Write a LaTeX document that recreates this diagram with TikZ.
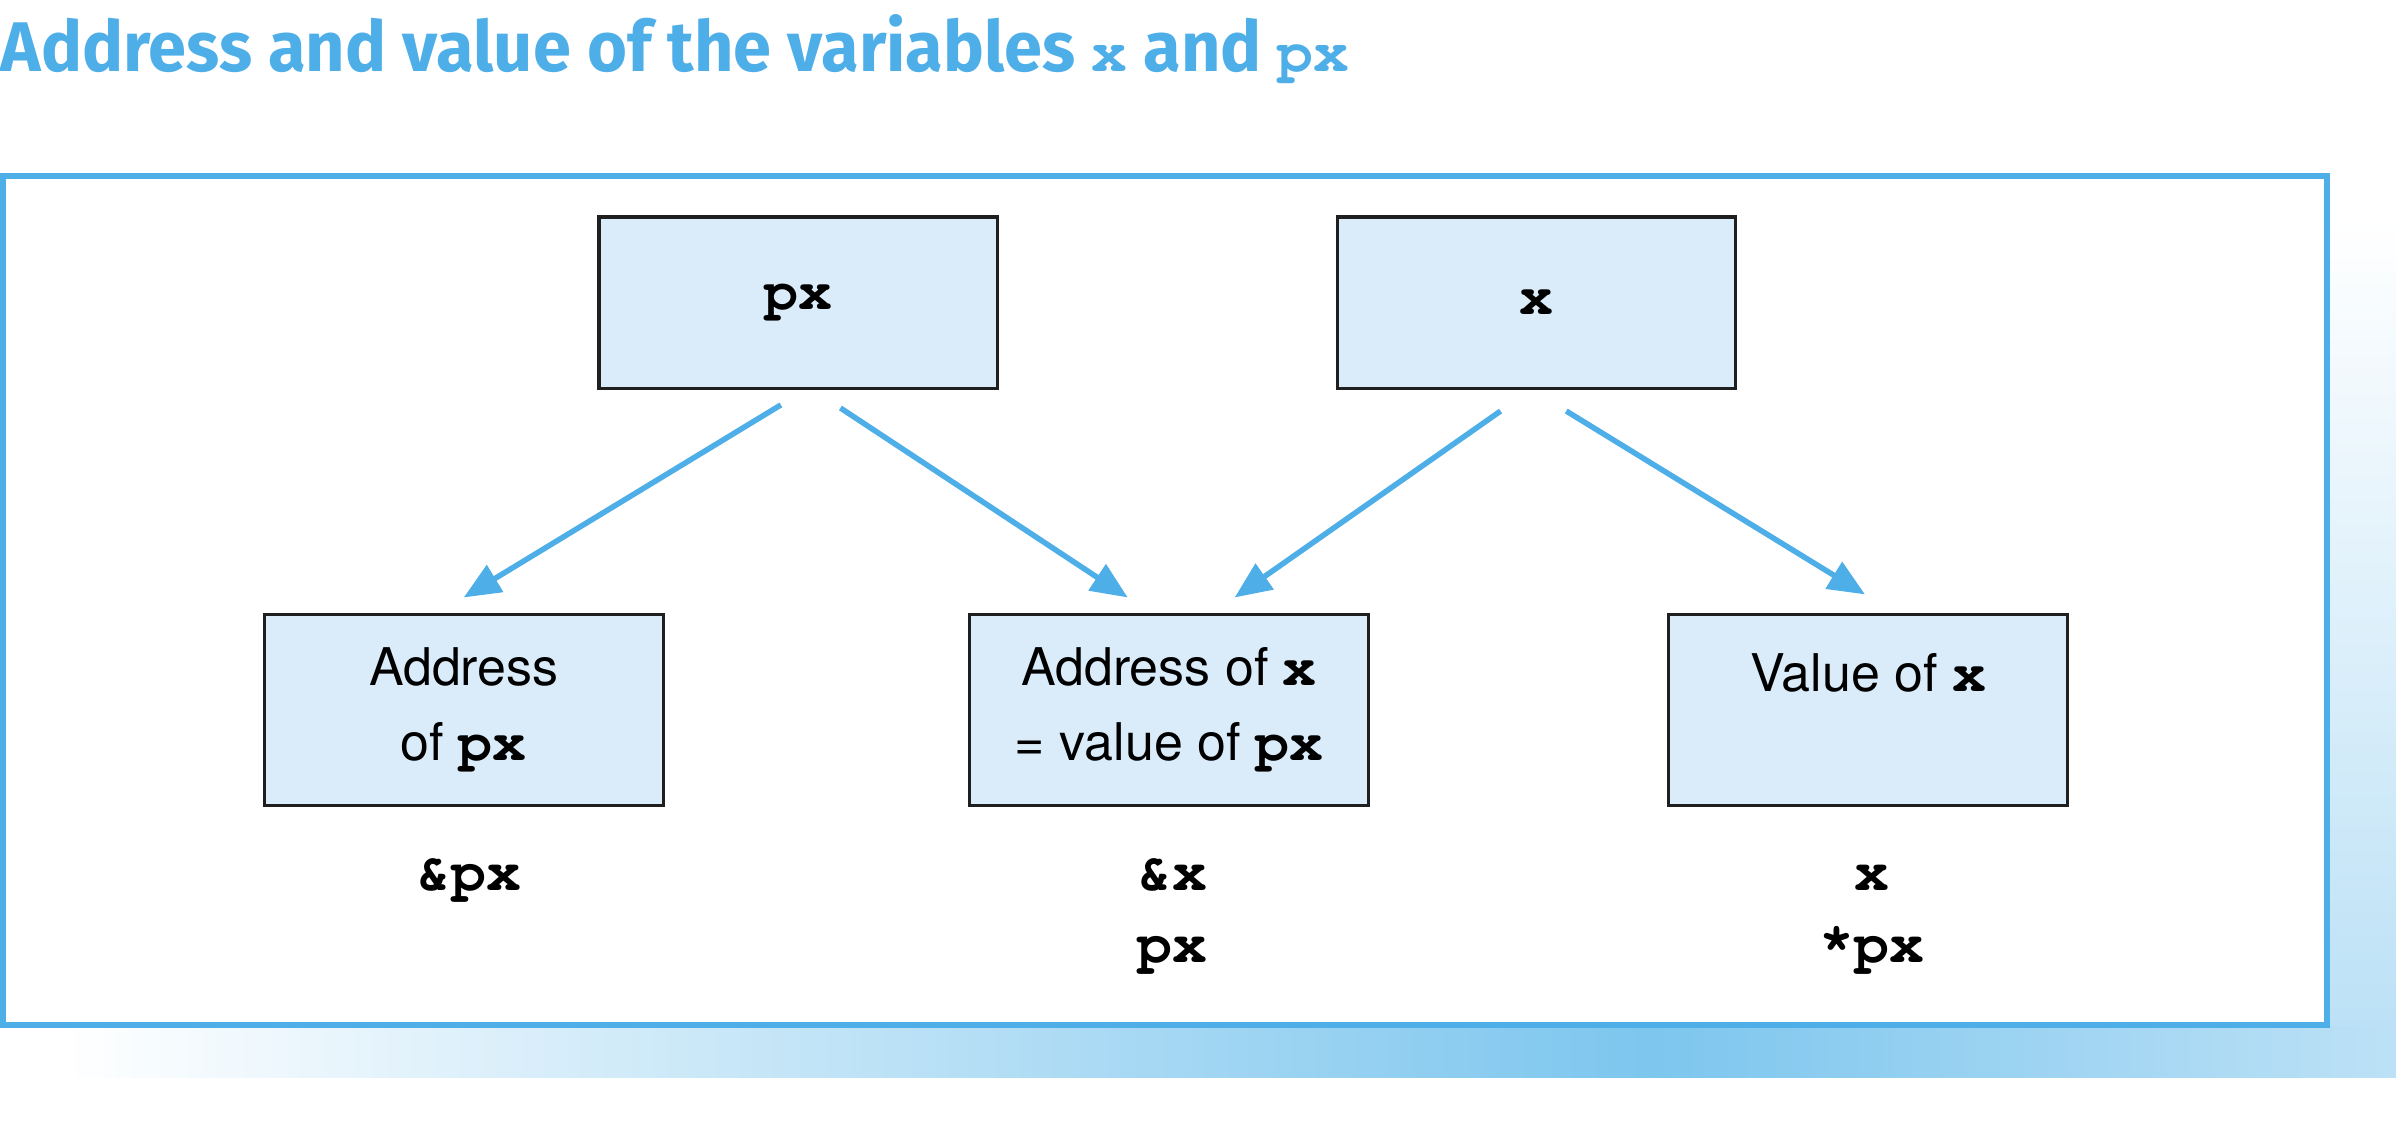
\documentclass[tikz,border=0pt]{standalone}
\usepackage{fontspec}
\setmainfont{TeX Gyre Heros}
\setmonofont{TeX Gyre Cursor}
\newfontfamily\titlefont{Fira Sans}[FakeStretch=0.975]
\usetikzlibrary{arrows.meta}
\definecolor{ptrblue}{RGB}{78,174,232}
\definecolor{cellfill}{RGB}{218,236,249}
\definecolor{shadowdeep}{RGB}{125,198,238}
\definecolor{shadowpale}{RGB}{188,225,246}
\newcommand{\varname}[1]{{\fontsize{18.5}{24.5}\ttfamily\bfseries #1}}

\begin{document}
\begin{tikzpicture}[x=0.5pt,y=-0.5pt,
	cell/.style={draw=black!88,line width=1pt,fill=cellfill,minimum width=130.5pt,inner sep=0pt,
		align=center,font=\fontsize{17}{24.5}\selectfont},
	topcell/.style={cell,minimum height=56pt},
	lowcell/.style={cell,minimum height=62.5pt},
	ptr/.style={draw=ptrblue,line width=1.8pt,-{Triangle[length=12pt,width=10pt]}},
	expr/.style={anchor=base,inner sep=0pt,align=center,font=\fontsize{19}{23.5}\ttfamily\bfseries}]
	\useasboundingbox (0,0) rectangle (1568,742);
	\shade[left color=white,right color=shadowdeep] (40,671) rectangle (1080,705);
	\shade[left color=shadowdeep,right color=shadowpale] (1080,671) rectangle (1568,705);
	\shade[top color=white,bottom color=shadowpale] (1523,143) rectangle (1568,671);
	\draw[ptrblue,line width=2pt,fill=white] (2,115) rectangle (1523,671);
	\node[anchor=base west,inner sep=0pt,text=ptrblue,font=\titlefont\bfseries\fontsize{23}{28}\selectfont] (title) at (0,47)
		{Address and value of the variables {\fontsize{19.5}{28}\ttfamily\bfseries x} and {\fontsize{19.5}{28}\ttfamily\bfseries px}};
	\node[topcell] (px) at (522.5,198) {\varname{px}};
	\node[topcell] (x) at (1005.5,198) {\varname{x}};
	\node[lowcell] (addrpx) at (303.5,464.5) {Address\\of \varname{px}};
	\node[lowcell] (addrx) at (765,464.5) {Address of \varname{x}\\= value of \varname{px}};
	\node[lowcell] (valx) at (1222.5,464.5) {Value of \varname{x}\\\mbox{}};
	\node[expr] (exprpx) at (307,583) {\&px};
	\node[expr] (exprx) at (767,630) {\&x\\px};
	\node[expr] (exprval) at (1225,630) {x\\*px};
	\draw[ptr] ([xshift=-5.75pt,yshift=-5pt]px.south) -- ([yshift=5pt]addrpx.north);
	\draw[ptr] ([xshift=13.75pt,yshift=-6pt]px.south) -- ([xshift=-13.5pt,yshift=5pt]addrx.north);
	\draw[ptr] ([xshift=-11.75pt,yshift=-7pt]x.south) -- ([xshift=21.5pt,yshift=5pt]addrx.north);
	\draw[ptr] ([xshift=9.75pt,yshift=-7pt]x.south) -- ([xshift=-1pt,yshift=6pt]valx.north);
\end{tikzpicture}
\end{document}
